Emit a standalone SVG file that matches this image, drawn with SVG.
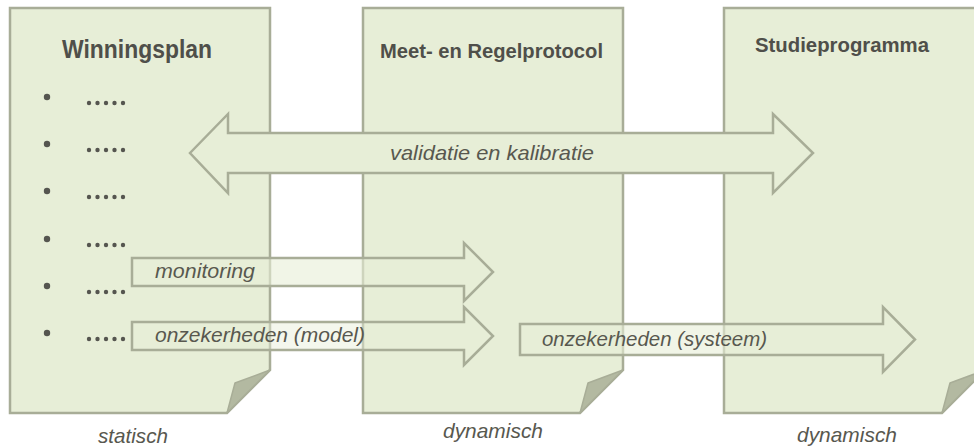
<svg xmlns="http://www.w3.org/2000/svg" width="974" height="448" viewBox="0 0 974 448">
  <style>
    .doc { fill: #e7eed7; stroke: #a8ad97; stroke-width: 2.5; stroke-linejoin: miter; }
    .fold { fill: #b3b9a1; stroke: #a8ad97; stroke-width: 1.5; stroke-linejoin: round; }
    .title { font-family: "Liberation Sans", Arial, sans-serif; font-weight: bold; fill: #4f4f4a; }
    .lbl { font-family: "Liberation Sans", Arial, sans-serif; font-style: italic; fill: #58584f; font-size: 21px; }
    .bul { fill: #55554f; }
    .arrow { stroke: #a8ad97; stroke-width: 2.5; stroke-linejoin: miter; }
    .solid { fill: #e7eed7; }
    .semi { fill: #e7eed7; fill-opacity: 0.6; }
    .semi2 { fill: #e7eed7; fill-opacity: 0.45; }
  </style>

  <g id="doc-winningsplan">
    <path class="doc" d="M10,8 H270 V370 L227,413 H10 Z"/>
    <path class="fold" d="M270,370 L227,413 L235,383 Z"/>
    <text class="title" x="62" y="58" font-size="26" textLength="150" lengthAdjust="spacingAndGlyphs">Winningsplan</text>
    <g class="bul">
      <circle cx="47" cy="97" r="3.2"/>
      <circle cx="47" cy="144" r="3.2"/>
      <circle cx="47" cy="191" r="3.2"/>
      <circle cx="47" cy="239" r="3.2"/>
      <circle cx="47" cy="286" r="3.2"/>
      <circle cx="47" cy="333" r="3.2"/>
    </g>
    <g class="bul">
      <g id="dots1">
        <circle cx="89" cy="103" r="2.2"/><circle cx="97.5" cy="103" r="2.2"/><circle cx="106" cy="103" r="2.2"/><circle cx="114.5" cy="103" r="2.2"/><circle cx="123" cy="103" r="2.2"/>
      </g>
      <use href="#dots1" y="47"/>
      <use href="#dots1" y="94"/>
      <use href="#dots1" y="142"/>
      <use href="#dots1" y="189"/>
      <use href="#dots1" y="236"/>
    </g>
  </g>

  <g id="doc-meet-regelprotocol">
    <path class="doc" d="M363,8 H623 V370 L580,413 H363 Z"/>
    <path class="fold" d="M623,370 L580,413 L588,383 Z"/>
    <text class="title" x="380" y="58" font-size="21" textLength="223" lengthAdjust="spacingAndGlyphs">Meet- en Regelprotocol</text>
  </g>

  <g id="doc-studieprogramma">
    <path class="doc" d="M724,8 H985 V370 L942,413 H724 Z"/>
    <path class="fold" d="M985,370 L942,413 L950,383 Z"/>
    <text class="title" x="755" y="52" font-size="21" textLength="174" lengthAdjust="spacingAndGlyphs">Studieprogramma</text>
  </g>

  <g id="connectors">
    <g id="arrow-validatie">
      <path class="arrow solid" d="M190,153 L228,114 V133 H773 V114 L813,153 L773,193 V173 H228 V193 Z"/>
      <text class="lbl" x="390" y="160" textLength="204" lengthAdjust="spacingAndGlyphs">validatie en kalibratie</text>
    </g>
    <g id="arrow-monitoring">
      <path class="arrow semi" d="M132,258 H464 V243 L493,272 L464,301 V286 H132 Z"/>
      <text class="lbl" x="155" y="278" textLength="100" lengthAdjust="spacingAndGlyphs">monitoring</text>
    </g>
    <g id="arrow-model">
      <path class="arrow semi2" d="M132,322 H464 V307 L493,336 L464,365 V350 H132 Z"/>
      <text class="lbl" x="155" y="342" textLength="210" lengthAdjust="spacingAndGlyphs">onzekerheden (model)</text>
    </g>
    <g id="arrow-systeem">
      <path class="arrow semi" d="M520,324 H883 V307 L915,339.5 L883,372 V355 H520 Z"/>
      <text class="lbl" x="542" y="346" textLength="225" lengthAdjust="spacingAndGlyphs">onzekerheden (systeem)</text>
    </g>
  </g>

  <g id="captions">
    <text class="lbl" x="98" y="443" textLength="70" lengthAdjust="spacingAndGlyphs">statisch</text>
    <text class="lbl" x="443" y="438" textLength="100" lengthAdjust="spacingAndGlyphs">dynamisch</text>
    <text class="lbl" x="797" y="442" textLength="100" lengthAdjust="spacingAndGlyphs">dynamisch</text>
  </g>
</svg>
